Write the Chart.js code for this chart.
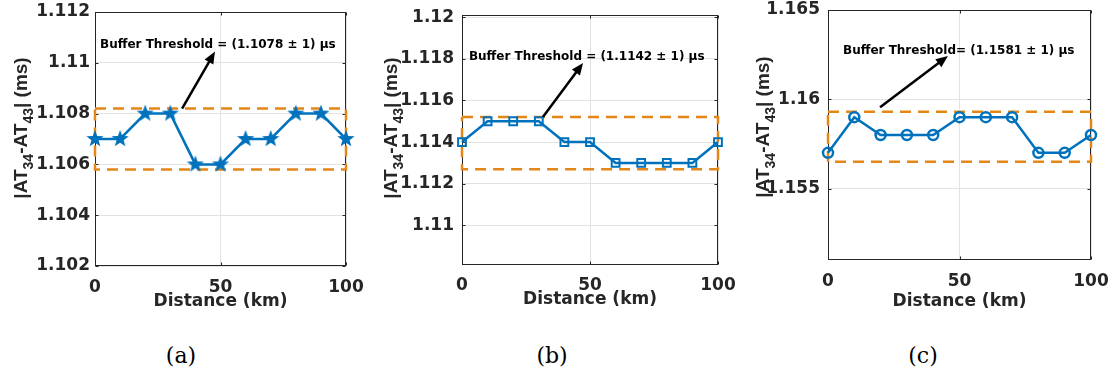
<!DOCTYPE html>
<html><head><meta charset="utf-8">
<script src="https://cdn.jsdelivr.net/npm/chart.js@4.4.1/dist/chart.umd.min.js"></script>
<style>
html,body{margin:0;padding:0;background:#fff;}
body{width:1115px;height:374px;overflow:hidden;position:relative;}
.panel{position:absolute;top:0;}
.cap{position:absolute;font-family:'DejaVu Serif',serif;font-size:22px;color:#000;transform:translate(-50%,-50%);white-space:nowrap;}
</style>
</head><body>
<canvas id="ca" class="panel" style="left:0px" width="370" height="320"></canvas>
<canvas id="cb" class="panel" style="left:370px" width="370" height="320"></canvas>
<canvas id="cc" class="panel" style="left:740px" width="375" height="320"></canvas>
<div class="cap" style="left:181px;top:355px">(a)</div>
<div class="cap" style="left:552px;top:355px">(b)</div>
<div class="cap" style="left:923px;top:355px">(c)</div>
<script>
// ---------- data ----------
const distances = [0,10,20,30,40,50,60,70,80,90,100];
const seriesA = [1.107,1.107,1.108,1.108,1.106,1.106,1.107,1.107,1.108,1.108,1.107];
const seriesB = [1.114,1.115,1.115,1.115,1.114,1.114,1.113,1.113,1.113,1.113,1.114];
const seriesC = [1.157,1.159,1.158,1.158,1.158,1.159,1.159,1.159,1.157,1.157,1.158];

const xTicks = [0,50,100];
const xTickLabels = ['0','50','100'];

const yTicksA = [1.102,1.104,1.106,1.108,1.110,1.112];
const yTickLabelsA = ['1.102','1.104','1.106','1.108','1.11','1.112'];
const yTicksB = [1.110,1.112,1.114,1.116,1.118,1.120];
const yTickLabelsB = ['1.11','1.112','1.114','1.116','1.118','1.12'];
const yTicksC = [1.155,1.160,1.165];
const yTickLabelsC = ['1.155','1.16','1.165'];

const yRangeA = [1.102,1.112];
const yRangeB = [1.1081,1.1201];
const yRangeC = [1.151,1.165];

// threshold boxes [lower, upper]
const boxA = [1.1058,1.1082];
const boxB = [1.1127,1.1152];
const boxC = [1.1565,1.1593];

// annotation: arrow [x0,y0,x1,y1], label anchor [x,y]
const arrowA = [34.7,1.1082,47.8,1.11044];
const arrowB = [31.6,1.1152,47.3,1.1178];
const arrowC = [19.8,1.15955,45.6,1.16242];
const labelPosA = [2,1.1107];
const labelPosB = [2.7,1.1181];
const labelPosC = [5.7,1.1627];
const labelA = 'Buffer Threshold = (1.1078 \u00B1 1) \u03BCs';
const labelB = 'Buffer Threshold = (1.1142 \u00B1 1) \u03BCs';
const labelC = 'Buffer Threshold= (1.1581 \u00B1 1) \u03BCs';

const xTitle = 'Distance (km)';

// ---------- styles ----------
const BLUE = '#0072BD';
const ORANGE = '#E38718';
const GRID = '#E3E3E3';
const AXIS = '#262626';
const TXT = '#262626';
const FONT = 'DejaVu Sans';

function starCanvas(R, color){
  const s = Math.ceil(2*R+2);
  const c = document.createElement('canvas');
  c.width = s; c.height = s;
  const g = c.getContext('2d');
  g.fillStyle = color;
  g.beginPath();
  for (let i=0;i<10;i++){
    const a = -Math.PI/2 + i*Math.PI/5;
    const r = (i%2) ? R*0.42 : R;
    g.lineTo(s/2 + r*Math.cos(a), s/2 + r*Math.sin(a));
  }
  g.closePath(); g.fill();
  return c;
}

function decorPlugin(cfg){
  return {
    id: 'decor_'+cfg.id,
    beforeDatasetsDraw(chart){
      const {ctx, chartArea} = chart;
      const L = Math.round(chartArea.left)+0.5, R = Math.round(chartArea.right)-0.5;
      const T = Math.round(chartArea.top)+0.5, B = Math.round(chartArea.bottom)-0.5;
      ctx.save();
      ctx.strokeStyle = AXIS; ctx.lineWidth = 1;
      ctx.strokeRect(L, T, R-L, B-T);
      // inward ticks
      const ys = chart.scales.y, xs = chart.scales.x;
      ctx.beginPath();
      cfg.yTicks.forEach(v => {
        const py = Math.round(ys.getPixelForValue(v))+0.5;
        ctx.moveTo(L, py); ctx.lineTo(L+3, py);
        ctx.moveTo(R, py); ctx.lineTo(R-3, py);
      });
      xTicks.forEach(v => {
        const px = Math.round(xs.getPixelForValue(v))+0.5;
        ctx.moveTo(px, B); ctx.lineTo(px, B-3);
        ctx.moveTo(px, T); ctx.lineTo(px, T+3);
      });
      ctx.stroke();
      // y-axis title with subscripts
      ctx.translate(cfg.yTitle[0], cfg.yTitle[1]);
      ctx.rotate(-Math.PI/2);
      ctx.fillStyle = TXT;
      ctx.textBaseline = 'alphabetic';
      const segs = [['|AT',false],['34',true],['-AT',false],['43',true],['| (ms)',false]];
      const mainF = 'bold 19px "Liberation Sans"', subF = 'bold 14px "Liberation Sans"';
      let total = 0;
      segs.forEach(s => { ctx.font = s[1]?subF:mainF; total += ctx.measureText(s[0]).width; });
      let x = -total/2;
      segs.forEach(s => {
        ctx.font = s[1]?subF:mainF;
        ctx.fillText(s[0], x, s[1] ? 13 : 7);
        x += ctx.measureText(s[0]).width;
      });
      ctx.restore();
    },
    afterDatasetsDraw(chart){
      const {ctx} = chart;
      const xs = chart.scales.x, ys = chart.scales.y;
      const a = cfg.arrow;
      const x0 = xs.getPixelForValue(a[0]), y0 = ys.getPixelForValue(a[1]);
      const x1 = xs.getPixelForValue(a[2]), y1 = ys.getPixelForValue(a[3]);
      const ang = Math.atan2(y1-y0, x1-x0);
      const hl = 12, hw = 5;
      ctx.save();
      ctx.strokeStyle = '#000'; ctx.fillStyle = '#000'; ctx.lineWidth = 2.5;
      ctx.beginPath();
      ctx.moveTo(x0, y0);
      ctx.lineTo(x1 - (hl-2)*Math.cos(ang), y1 - (hl-2)*Math.sin(ang));
      ctx.stroke();
      ctx.beginPath();
      ctx.moveTo(x1, y1);
      ctx.lineTo(x1 - hl*Math.cos(ang) + hw*Math.sin(ang), y1 - hl*Math.sin(ang) - hw*Math.cos(ang));
      ctx.lineTo(x1 - hl*Math.cos(ang) - hw*Math.sin(ang), y1 - hl*Math.sin(ang) + hw*Math.cos(ang));
      ctx.closePath(); ctx.fill();
      ctx.font = 'bold 12px "'+FONT+'"';
      ctx.textAlign = 'left'; ctx.textBaseline = 'middle';
      ctx.fillText(cfg.label, xs.getPixelForValue(cfg.labelPos[0]), ys.getPixelForValue(cfg.labelPos[1]));
      ctx.restore();
    }
  };
}

function makePanel(cfg){
  const pts = distances.map((x,i)=>({x:x, y:cfg.series[i]}));
  const box = [{x:0,y:cfg.box[1]},{x:100,y:cfg.box[1]},{x:100,y:cfg.box[0]},{x:0,y:cfg.box[0]},{x:0,y:cfg.box[1]}];
  new Chart(document.getElementById(cfg.id), {
    type: 'scatter',
    data: { datasets: [
      { data: pts, showLine: true, borderColor: BLUE, borderWidth: 2.5, tension: 0,
        pointStyle: cfg.pointStyle, pointRadius: cfg.pointRadius, pointBorderWidth: cfg.pointBorderWidth,
        pointBorderColor: BLUE, pointBackgroundColor: cfg.pointBg, clip: false },
      { data: box, showLine: true, borderColor: ORANGE, borderWidth: 2.5, borderDash: [11,7],
        pointRadius: 0, tension: 0, clip: false }
    ]},
    options: {
      responsive: false, animation: false, devicePixelRatio: 1, events: [],
      layout: { padding: { left: 0, right: cfg.padR, top: cfg.padT, bottom: 0 } },
      plugins: { legend: {display:false}, tooltip: {enabled:false} },
      scales: {
        x: {
          type: 'linear', min: 0, max: 100,
          afterBuildTicks: s => { s.ticks = xTicks.map(v => ({value:v})); },
          afterFit: s => { s.height = cfg.xH; s.paddingLeft = 0; s.paddingRight = 0; },
          grid: { color: GRID, drawTicks: false },
          border: { display: false },
          ticks: { autoSkip: false, maxRotation: 0, padding: cfg.xPad, color: TXT,
                   font: { family: FONT, weight: 'bold', size: 17 },
                   callback: (v,i) => xTickLabels[i] },
          title: { display: true, text: xTitle, color: TXT,
                   font: { family: FONT, weight: 'bold', size: 17 }, padding: { top: 0, bottom: cfg.xTitlePad } }
        },
        y: {
          type: 'linear', min: cfg.yRange[0], max: cfg.yRange[1],
          afterBuildTicks: s => { s.ticks = cfg.yTicks.map(v => ({value:v})); },
          afterFit: s => { s.width = cfg.yW; s.paddingTop = 0; s.paddingBottom = 0; },
          grid: { color: GRID, drawTicks: false },
          border: { display: false },
          ticks: { autoSkip: false, padding: cfg.yPad, color: TXT,
                   font: { family: FONT, weight: 'bold', size: 17 },
                   callback: (v,i) => cfg.yTickLabels[i] }
        }
      }
    },
    plugins: [decorPlugin(cfg)]
  });
}

makePanel({ id:'ca', series: seriesA, yTicks: yTicksA, yTickLabels: yTickLabelsA, yRange: yRangeA,
  box: boxA, arrow: arrowA, label: labelA, labelPos: labelPosA,
  pointStyle: starCanvas(9, BLUE), pointRadius: 9, pointBorderWidth: 0, pointBg: BLUE,
  padR: 24, padT: 12, xH: 54, yW: 95, xPad: 11, xTitlePad: 8, yPad: 5, yTitle: [20,128] });
makePanel({ id:'cb', series: seriesB, yTicks: yTicksB, yTickLabels: yTickLabelsB, yRange: yRangeB,
  box: boxB, arrow: arrowB, label: labelB, labelPos: labelPosB,
  pointStyle: 'rect', pointRadius: 5.5, pointBorderWidth: 2, pointBg: 'rgba(0,0,0,0)',
  padR: 22, padT: 15, xH: 55, yW: 92, xPad: 10, xTitlePad: 10, yPad: 8, yTitle: [20,128] });
makePanel({ id:'cc', series: seriesC, yTicks: yTicksC, yTickLabels: yTickLabelsC, yRange: yRangeC,
  box: boxC, arrow: arrowC, label: labelC, labelPos: labelPosC,
  pointStyle: 'circle', pointRadius: 5, pointBorderWidth: 2.5, pointBg: 'rgba(0,0,0,0)',
  padR: 24, padT: 10, xH: 60, yW: 88, xPad: 11, xTitlePad: 8, yPad: 8, yTitle: [22,127] });
</script>
</body></html>
